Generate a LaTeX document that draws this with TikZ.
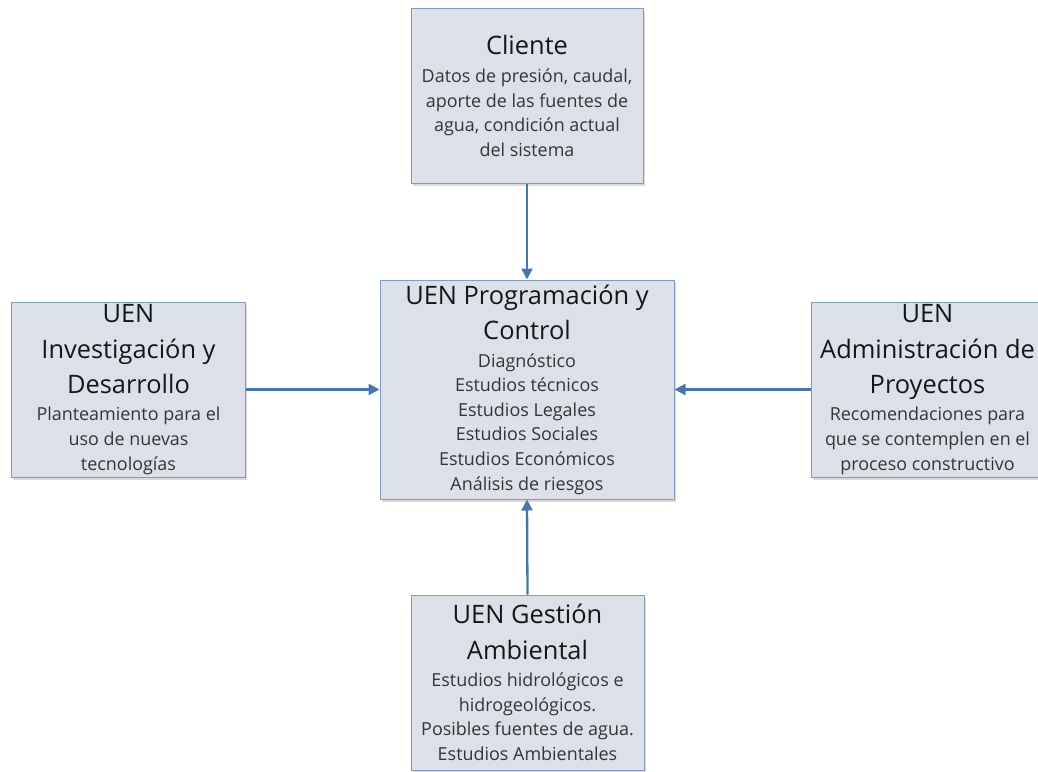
\documentclass[tikz,border=0pt]{standalone}
\usepackage{fontspec}
\setmainfont{Open Sans}
\usetikzlibrary{shadows,arrows.meta}

\definecolor{boxfill}{RGB}{220,225,233}
\definecolor{boxline}{RGB}{128,156,192}
\definecolor{linkblue}{RGB}{72,118,168}
\definecolor{headc}{RGB}{22,22,22}
\definecolor{bodyc}{RGB}{52,52,52}

% title and description text of each unit
\newcommand{\ttlfont}{\fontsize{25.5}{35.5}\selectfont\color{headc}}
\newcommand{\txtfont}{\fontsize{18}{24.7}\selectfont\color{bodyc}}
\newcommand{\unitbox}[3]{%
  \begin{minipage}{#1}\centering
    \ttlfont #2\par\vspace{3bp}
    \txtfont #3\par
  \end{minipage}}

\tikzset{
  unit/.style={draw=boxline, fill=boxfill, line width=1bp,
    inner sep=0pt, minimum width=233bp, minimum height=175bp,
    drop shadow={opacity=0.3, shadow xshift=1.5bp, shadow yshift=-3bp}},
  flow/.style={draw=linkblue, line width=2.3bp,
    -{Triangle[length=11bp,width=11bp]}}
}

\begin{document}
\begin{tikzpicture}[x=1bp,y=-1bp]
  \useasboundingbox (0,0) rectangle (1038,772);

  \node[unit, minimum width=232bp, minimum height=174bp] (cl) at (527,96)
    {\unitbox{230bp}{Cliente}{Datos de presión, caudal,\\ aporte de las fuentes de\\ agua, condición actual\\ del sistema}};

  \node[unit, minimum width=294bp, minimum height=219bp] (pc) at (527,389.5)
    {\unitbox{292bp}{UEN Programación y\\ Control}{Diagnóstico\\ Estudios técnicos\\ Estudios Legales\\ Estudios Sociales\\ Estudios Económicos\\ Análisis de riesgos}};

  \node[unit] (id) at (128.5,389.5)
    {\unitbox{232bp}{UEN\\ Investigación y\\ Desarrollo}{Planteamiento para el\\ uso de nuevas\\ tecnologías}};

  \node[unit] (ap) at (927.5,389.5)
    {\unitbox{232bp}{UEN\\ Administración de\\ Proyectos}{Recomendaciones para\\ que se contemplen en el\\ proceso constructivo}};

  \node[unit] (ga) at (527.5,682.5)
    {\unitbox{232bp}{UEN Gestión\\ Ambiental}{Estudios hidrológicos e\\ hidrogeológicos.\\ Posibles fuentes de agua.\\ Estudios Ambientales}};

  \draw[flow] (cl.south) -- (pc.north);
  \draw[flow] (id.east) -- (pc.west);
  \draw[flow] (ap.west) -- (pc.east);
  \draw[flow] (ga.north) -- (pc.south);
\end{tikzpicture}
\end{document}
